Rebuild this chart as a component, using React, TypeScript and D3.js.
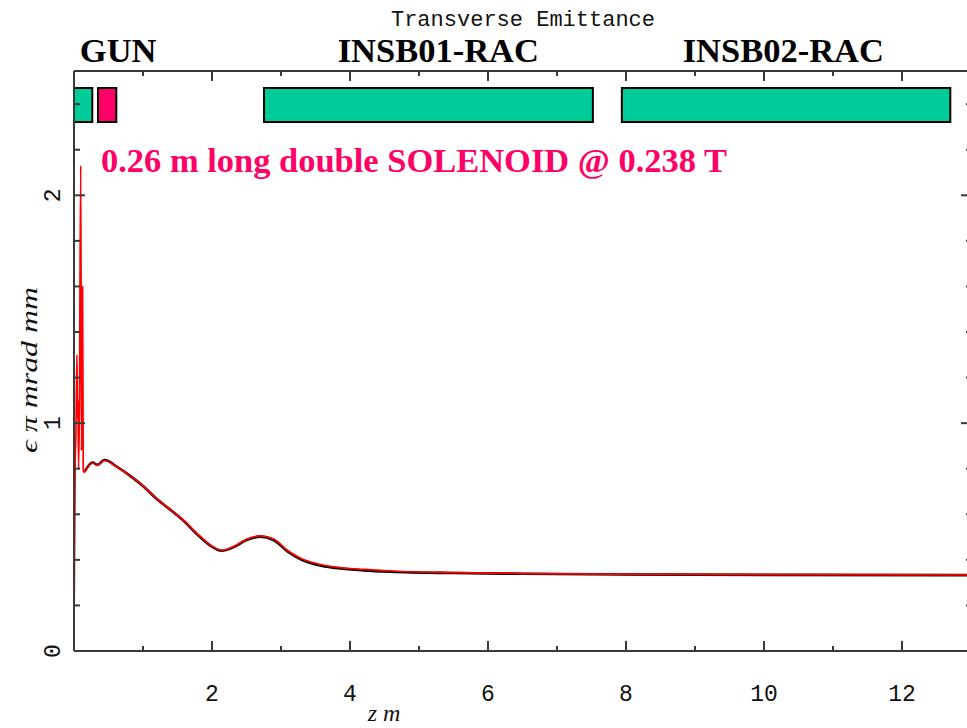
import React from "react";
import * as d3 from "d3";

// Beam-line elements (z in metres)
const elementNames = ["GUN", "SOL", "INSB01-RAC", "INSB02-RAC"];
const elementStart = [0.0, 0.348, 2.754, 7.94];
const elementEnd = [0.265, 0.613, 7.52, 12.7];
const elementKind = ["cavity", "solenoid", "cavity", "cavity"];

// Section headings above the plot
const headingText = ["GUN", "INSB01-RAC", "INSB02-RAC"];
const headingZ = [0.64, 5.28, 10.28];

// Emittance with solenoid field (red)
const zRed = [
  0.0, 0.018, 0.028, 0.042, 0.05, 0.058, 0.066, 0.078, 0.098, 0.108, 0.124, 0.134,
  0.155, 0.174, 0.27, 0.34, 0.44, 0.47, 0.6, 0.8, 1.0, 1.2, 1.4, 1.6, 1.8, 2.0,
  2.14, 2.3, 2.5, 2.7, 2.9, 3.1, 3.3, 3.5, 3.8, 4.2, 4.6, 5.5, 6.5, 8.0, 10.0, 13.0,
];
const vRed = [
  0.1, 0.84, 0.95, 1.3, 1.02, 1.1, 0.8, 1.05, 2.13, 0.88, 1.6, 0.79,
  0.785, 0.795, 0.825, 0.815, 0.836, 0.835, 0.812, 0.772, 0.725, 0.668, 0.62, 0.57, 0.51, 0.46,
  0.442, 0.456, 0.49, 0.505, 0.49, 0.44, 0.405, 0.385, 0.368, 0.358, 0.351, 0.344, 0.34, 0.337, 0.335, 0.334,
];

// Reference emittance (black)
const zBlack = [
  0.16, 0.174, 0.27, 0.34, 0.44, 0.47, 0.6, 0.8, 1.0, 1.2, 1.4, 1.6, 1.8, 2.0,
  2.14, 2.3, 2.5, 2.7, 2.9, 3.1, 3.3, 3.5, 3.8, 4.2, 4.6, 5.5, 6.5, 8.0, 10.0, 13.0,
];
const vBlack = [
  0.79, 0.797, 0.827, 0.817, 0.838, 0.837, 0.813, 0.772, 0.724, 0.667, 0.619, 0.568, 0.508, 0.458,
  0.44, 0.454, 0.487, 0.502, 0.486, 0.436, 0.4, 0.38, 0.364, 0.354, 0.348, 0.342, 0.339, 0.336, 0.334, 0.333,
];

const xMajorTicks = [2, 4, 6, 8, 10, 12];
const xMinorTicks = [1, 3, 5, 7, 9, 11, 13];
const yMajorTicks = [0, 1, 2];
const yMinorTicks = [0.2, 0.4, 0.6, 0.8, 1.2, 1.4, 1.6, 1.8, 2.2, 2.4];

const W = 967;
const H = 728;
const left = 74;
const right = 971;
const top = 71;
const bottom = 651;

const GREEN = "#00cc99";
const PINK = "#ff0066";
const AXIS = "#3a3a3a";

export default function App() {
  const x = d3.scaleLinear().domain([0, 13]).range([left, right]);
  const y = d3.scaleLinear().domain([0, 2.5455]).range([bottom, top]);

  const line = d3
    .line<[number, number]>()
    .x((d) => x(d[0]))
    .y((d) => y(d[1]))
    .curve(d3.curveMonotoneX);

  const redPts = zRed.map((z, i) => [z, vRed[i]] as [number, number]);
  const blackPts = zBlack.map((z, i) => [z, vBlack[i]] as [number, number]);

  const mono = "'Liberation Mono', 'DejaVu Sans Mono', monospace";
  const serif = "'Liberation Serif', 'DejaVu Serif', serif";

  return (
    <svg
      width={W}
      height={H}
      style={{ position: "absolute", left: 0, top: 0, background: "#fff" }}
    >
      <defs>
        <clipPath id="plot-clip">
          <rect x={left} y={top} width={right - left} height={bottom - top} />
        </clipPath>
      </defs>

      {/* title */}
      <text x={523} y={26} textAnchor="middle" fontFamily={mono} fontSize={22} fill="#111">
        Transverse Emittance
      </text>

      {/* section headings */}
      {headingText.map((t, i) => (
        <text
          key={t}
          x={x(headingZ[i])}
          y={62}
          textAnchor="middle"
          fontFamily={serif}
          fontWeight="bold"
          fontSize={34.5}
          fill="#000"
        >
          {t}
        </text>
      ))}

      {/* element boxes */}
      {elementNames.map((n, i) => (
        <rect
          key={n}
          x={x(elementStart[i])}
          y={88}
          width={x(elementEnd[i]) - x(elementStart[i])}
          height={34}
          fill={elementKind[i] === "solenoid" ? PINK : GREEN}
          stroke="#000"
          strokeWidth={2}
        />
      ))}

      {/* annotation */}
      <text
        x={101}
        y={172}
        fontFamily={serif}
        fontWeight="bold"
        fontSize={34}
        fill={PINK}
        textLength={626}
        lengthAdjust="spacingAndGlyphs"
      >
        0.26 m long double SOLENOID @ 0.238 T
      </text>

      {/* curves */}
      <g clipPath="url(#plot-clip)">
        <path d={line(blackPts) ?? ""} fill="none" stroke="#000" strokeWidth={2.6} />
        <path d={line(redPts) ?? ""} fill="none" stroke="#ff0000" strokeWidth={1.7} />
      </g>

      {/* frame */}
      <g stroke={AXIS} strokeWidth={2} fill="none">
        <line x1={left} y1={bottom} x2={right} y2={bottom} />
        <line x1={left} y1={top} x2={right} y2={top} />
        <line x1={left} y1={top} x2={left} y2={bottom} />
        <line x1={right} y1={top} x2={right} y2={bottom} />
      </g>

      {/* ticks on all four sides, pointing inward */}
      <g stroke={AXIS} strokeWidth={2}>
        {xMajorTicks.map((t) => (
          <g key={"xM" + t}>
            <line x1={x(t)} x2={x(t)} y1={bottom} y2={bottom - 10} />
            <line x1={x(t)} x2={x(t)} y1={top} y2={top + 10} />
          </g>
        ))}
        {xMinorTicks.map((t) => (
          <g key={"xm" + t}>
            <line x1={x(t)} x2={x(t)} y1={bottom} y2={bottom - 5} />
            <line x1={x(t)} x2={x(t)} y1={top} y2={top + 5} />
          </g>
        ))}
        {yMajorTicks.map((t) => (
          <g key={"yM" + t}>
            <line x1={left} x2={left + 11} y1={y(t)} y2={y(t)} />
            <line x1={right} x2={right - 10} y1={y(t)} y2={y(t)} />
          </g>
        ))}
        {yMinorTicks.map((t) => (
          <g key={"ym" + t}>
            <line x1={left} x2={left + 6} y1={y(t)} y2={y(t)} />
            <line x1={right} x2={right - 5} y1={y(t)} y2={y(t)} />
          </g>
        ))}
      </g>

      {/* x tick labels */}
      {xMajorTicks.map((t) => (
        <text
          key={"xl" + t}
          x={x(t)}
          y={701}
          textAnchor="middle"
          fontFamily={mono}
          fontSize={23}
          fill="#111"
        >
          {t}
        </text>
      ))}

      {/* y tick labels (rotated) */}
      {yMajorTicks.map((t) => (
        <text
          key={"yl" + t}
          transform={`translate(60,${y(t)}) rotate(-90)`}
          textAnchor="middle"
          fontFamily={mono}
          fontSize={23}
          fill="#111"
        >
          {t}
        </text>
      ))}

      {/* axis titles */}
      <text
        transform="translate(37,370) rotate(-90)"
        textAnchor="middle"
        fontFamily={serif}
        fontStyle="italic"
        fontSize={24}
        fill="#111"
        textLength={166}
        lengthAdjust="spacingAndGlyphs"
      >
        ϵ π mrad mm
      </text>
      <text
        x={384}
        y={721}
        textAnchor="middle"
        fontFamily={serif}
        fontStyle="italic"
        fontSize={24}
        fill="#111"
      >
        z m
      </text>
    </svg>
  );
}
